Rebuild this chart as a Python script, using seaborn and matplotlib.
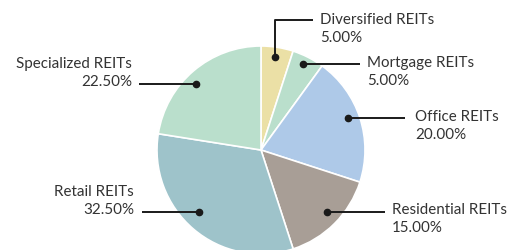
import matplotlib
matplotlib.use("Agg")
import matplotlib.pyplot as plt
import seaborn as sns

categories = ["Diversified REITs", "Mortgage REITs", "Office REITs",
              "Residential REITs", "Retail REITs", "Specialized REITs"]
values = [5.00, 5.00, 20.00, 15.00, 32.50, 22.50]
colors = ["#ebe0a6", "#badfcc", "#aec9e8", "#a89e96", "#9ec3ca", "#badfcc"]

sns.set_theme(style="white")
plt.rcParams['font.family'] = ['Lato', 'DejaVu Sans']

fig = plt.figure(figsize=(5.11, 2.5), dpi=100)
ax = fig.add_axes([0, 0, 1, 1])
ax.pie(values, colors=sns.color_palette(colors), startangle=-90, counterclock=True,
       center=(261, 150), radius=104,
       wedgeprops=dict(edgecolor="white", linewidth=1.2))
ax.set_xlim(0, 511)
ax.set_ylim(250, 0)
ax.set_aspect('equal')
ax.axis('off')

# annotation layout: dot, line path, text anchor, alignment
layout = [
    dict(path=[(275, 57), (275, 20), (313, 20)], text=(320, 20), ha="left"),
    dict(path=[(303, 64), (360, 64)], text=(367, 63), ha="left"),
    dict(path=[(348, 118), (405, 118)], text=(415, 117), ha="left"),
    dict(path=[(327, 212), (385, 212)], text=(392, 210), ha="left"),
    dict(path=[(199, 212), (142, 212)], text=(134, 192), ha="right"),
    dict(path=[(196, 84), (139, 84)], text=(132, 64), ha="right"),
]
tc = "#333333"
for cat, val, lay in zip(categories, values, layout):
    xs = [p[0] for p in lay["path"]]
    ys = [p[1] for p in lay["path"]]
    ax.plot(xs, ys, color="#1a1a1a", lw=1.4, solid_capstyle="butt")
    ax.plot(xs[0], ys[0], "o", color="#1a1a1a", ms=4.5)
    tx, ty = lay["text"]
    ax.text(tx, ty, cat, ha=lay["ha"], va="center", fontsize=10.9, color=tc)
    ax.text(tx, ty + 18, f"{val:.2f}%", ha=lay["ha"], va="center", fontsize=10.9, color=tc)

fig.savefig("out.png", dpi=100)
